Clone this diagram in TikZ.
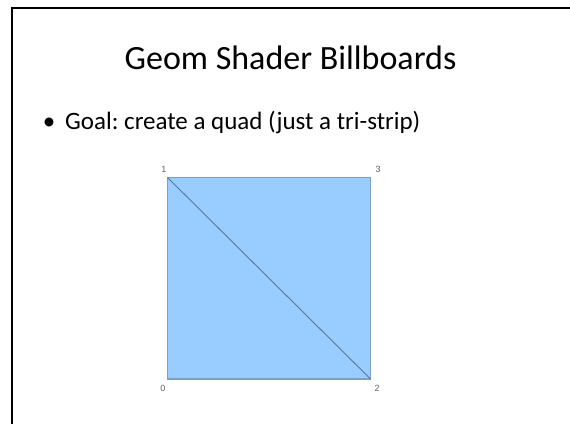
\documentclass[tikz,border=0pt]{standalone}
\usepackage{fontspec}
\setmainfont{Carlito}
\newfontfamily\labelfont{Liberation Sans}
\definecolor{quadfill}{HTML}{99CCFF}
\definecolor{quadedge}{HTML}{7F9FC0}
\definecolor{stripedge}{HTML}{56789A}
\definecolor{vertgray}{HTML}{606060}
\frenchspacing

\begin{document}
\begin{tikzpicture}[x=1pt, y=-1pt, every node/.style={inner sep=0pt},
	vertlabel/.style={font=\labelfont\fontsize{9}{10}\selectfont, text=vertgray}]
	\useasboundingbox (0,0) rectangle (570,424);
	% slide frame
	\draw[line width=2pt] (11.5,424) -- (11.5,8) -- (570,8);
	\node[anchor=base, font=\fontsize{34}{40}\selectfont] (title) at (290.5,69) {Geom Shader Billboards};
	\node[anchor=base, font=\fontsize{25}{30}\selectfont] (bullet) at (49,129.5) {•};
	\node[anchor=base west, font=\fontsize{25}{30}\selectfont] (goal) at (65,129.5) {Goal: create a quad (just a tri-strip)};
	% the quad, two triangles
	\coordinate (v0) at (167.5,379);
	\coordinate (v1) at (167.5,177.5);
	\coordinate (v2) at (370.5,379);
	\coordinate (v3) at (370.5,177.5);
	\fill[quadfill] (v0) -- (v1) -- (v3) -- (v2) -- cycle;
	\draw[quadedge, line width=1.2pt] (v0) -- (v1) -- (v3) -- (v2) -- cycle;
	\draw[stripedge, line width=0.9pt] (v1) -- (v2);
	\node[vertlabel, anchor=base] (l1) at (164,172) {1};
	\node[vertlabel, anchor=base] (l3) at (378,172) {3};
	\node[vertlabel, anchor=base] (l0) at (163,391) {0};
	\node[vertlabel, anchor=base] (l2) at (377,391) {2};
\end{tikzpicture}
\end{document}
